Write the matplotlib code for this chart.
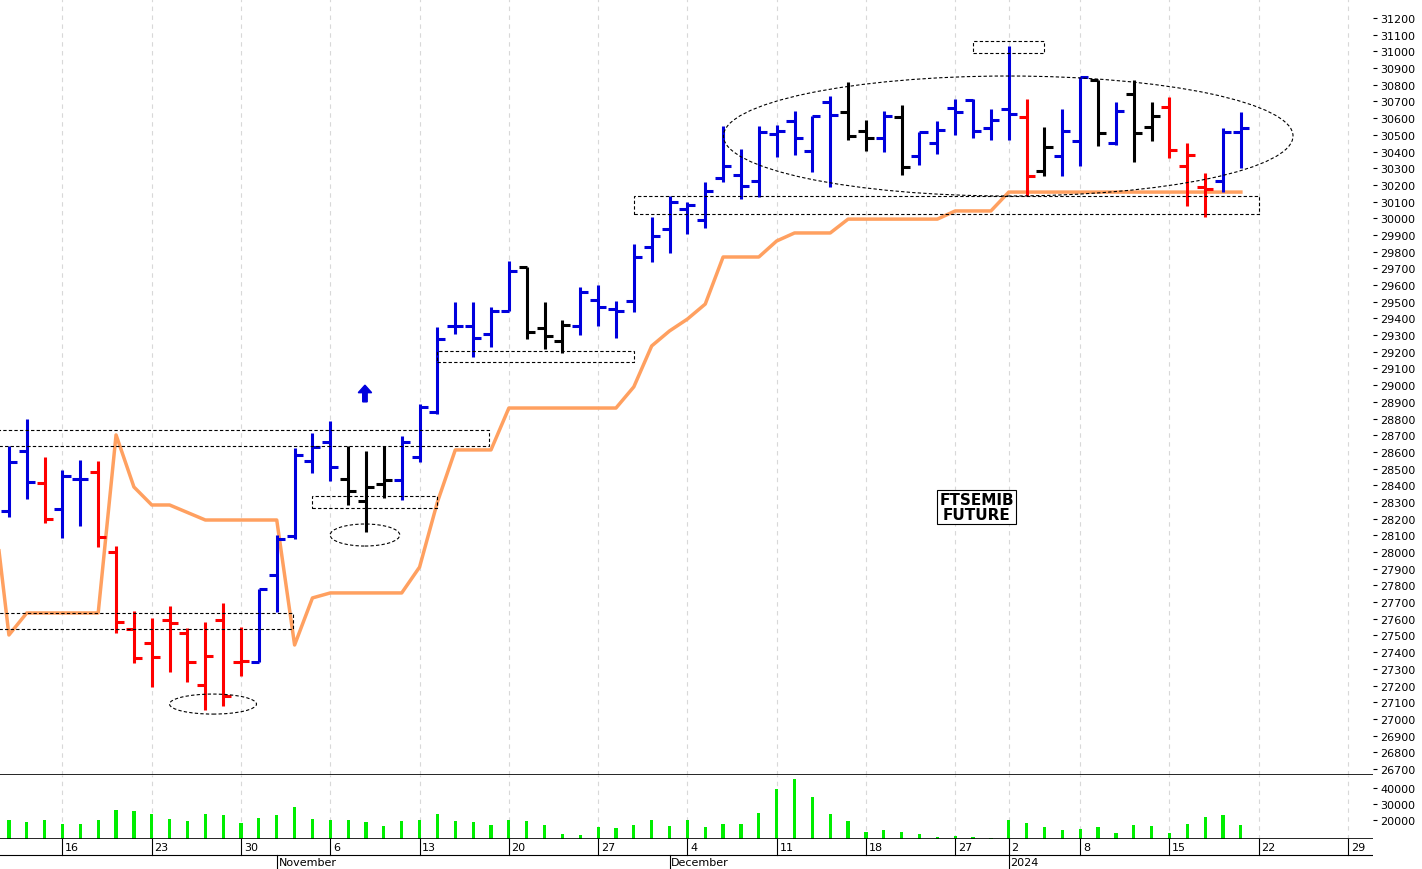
import matplotlib
matplotlib.use("Agg")
import matplotlib.pyplot as plt
from matplotlib.patches import Rectangle, Ellipse, FancyArrow

opens = [28246,28606,28414,28258,28438,28480,28000,27539,27455,27593,27515,27203,27593,27341,27341,27862,28096,28546,28660,28438,
         28306,28408,28432,28570,28839,29355,29355,29307,29444,29708,29343,29265,29355,29510,29456,29504,29828,29936,30056,29990,
         30241,30259,30223,30505,30583,30403,30697,30637,30523,30481,30607,30373,30451,30661,30709,30541,30655,30607,30283,30373,
         30463,30829,30451,30745,30547,30667,30313,30187,30223,30517]
highs = [28636,28797,28570,28492,28552,28546,28036,27647,27605,27677,27545,27581,27695,27551,27779,28102,28624,28713,28785,28636,
         28606,28636,28696,28890,29349,29498,29498,29468,29744,29708,29498,29390,29588,29600,29504,29846,30008,30134,30098,30218,
         30553,30415,30553,30559,30643,30613,30733,30817,30589,30643,30679,30517,30583,30715,30715,30655,31032,30715,30547,30655,
         30847,30829,30697,30829,30697,30727,30451,30271,30541,30637]
lows = [28210,28318,28174,28084,28156,28030,27515,27335,27191,27281,27221,27053,27077,27257,27341,27641,28078,28474,28426,28282,
        28120,28324,28312,28540,28827,29307,29169,29229,29444,29277,29217,29193,29301,29355,29283,29440,29738,29792,29906,29942,
        30217,30115,30127,30367,30379,30277,30187,30469,30403,30397,30259,30319,30385,30499,30481,30469,30469,30134,30253,30253,
        30313,30433,30439,30337,30463,30361,30074,30008,30158,30301]
closes = [28540,28420,28198,28456,28438,28090,27581,27365,27371,27575,27341,27377,27137,27347,27779,28078,28582,28630,28510,28366,
          28390,28432,28660,28870,29277,29355,29283,29444,29684,29319,29295,29361,29558,29468,29444,29768,29894,30098,30080,30164,
          30313,30193,30517,30523,30481,30613,30619,30493,30481,30613,30307,30517,30529,30637,30523,30589,30625,30253,30427,30523,
          30847,30511,30643,30511,30613,30409,30379,30175,30517,30541]
colors = list("bbrbbrrrrrrrrrbbbbbkkkbbbbbbbkkkbbbbbbbbbbbbbbbkkbkbbbbbbrkbbkbkkrrrbb")
volumes = [19580,18540,20000,17080,17080,19580,25830,25200,23330,20200,19170,23750,22700,17900,21040,23120,27920,20200,19580,19580,
           18540,16040,18960,19580,23750,18960,18540,16450,19580,18960,16870,11250,10200,15420,14790,16450,19580,16040,19580,15420,
           17500,17500,24380,39380,45630,34170,23750,18960,12300,13750,12300,11250,9170,9800,9170,8500,20000,18100,15420,13330,
           14000,15420,11880,16450,15830,11880,17500,21670,23120,16870]
stop_line = [28410,27503,27635,27635,27635,27635,27635,28702,28390,28282,28282,28237,28192,28192,28192,28192,28192,27443,27725,27755,
             27755,27755,27755,27755,27910,28300,28612,28612,28612,28863,28863,28863,28863,28863,28863,28863,28990,29235,29325,29396,
             29486,29768,29768,29768,29864,29912,29912,29912,29995,29995,29995,29995,29995,29995,30044,30044,30044,30157,30157,30157,
             30157,30157,30157,30157,30157,30157,30157,30157,30157,30157,30157]
week_ticks = [3,8,13,18,23,28,33,38,43,48,53,56,60,65,70,75]
week_labels = ["16","23","30","6","13","20","27","4","11","18","27","2","8","15","22","29"]
month_pos = [15,37,56]
month_labels = ["November","December","2024"]
price_ticks = list(range(26700,31201,100))
vol_ticks = [20000,30000,40000]

cmap = {"b":"#0000dd","r":"#ff0000","k":"#000000"}
W,H = 1422,870
fig = plt.figure(figsize=(W/100,H/100),dpi=100)
xl = (-0.5, 76.4)
ax = fig.add_axes([0, 1-776/H, 1373/W, 776/H])
axv = fig.add_axes([0, 1-840/H, 1373/W, 64/H])
axd = fig.add_axes([0, 0, 1373/W, 30/H])
for a in (ax,axv,axd):
    a.set_xlim(*xl)
    for s in a.spines.values(): s.set_visible(False)
ax.set_ylim(26664, 31314)
axv.set_ylim(8000, 48000)
axd.set_ylim(0,1)

for a in (ax,axv):
    for t in week_ticks:
        a.axvline(t, color="#d8d8d8", lw=0.8, ls=(0,(4,4)), zorder=0)

n = len(opens)
for i in range(n):
    c = cmap[colors[i]]
    ax.plot([i,i],[lows[i],highs[i]],color=c,lw=2.2,solid_capstyle="butt",zorder=3)
    ax.plot([i-0.45,i],[opens[i],opens[i]],color=c,lw=2.2,solid_capstyle="butt",zorder=3)
    ax.plot([i,i+0.45],[closes[i],closes[i]],color=c,lw=2.2,solid_capstyle="butt",zorder=3)
ax.plot(range(-1,n),stop_line,color="#ffa060",lw=2.5,zorder=2)

def rect(x0,x1,p0,p1):
    ax.add_patch(Rectangle((x0,p0),x1-x0,p1-p0,fill=False,ls=(0,(3,2)),lw=0.8,ec="black",zorder=4))
rect(-0.6,26.9,28636,28731)
rect(-0.6,15.9,27540,27635)
rect(17.0,24.0,28264,28336)
rect(24.0,35.0,29139,29205)
rect(35.0,70.0,30026,30133)
rect(54.0,58.0,30990,31062)
def ell(cx,cp,w,h):
    ax.add_patch(Ellipse((cx,cp),w,h,fill=False,ls=(0,(3,2)),lw=0.8,ec="black",zorder=4))
ell(11.43,27089,4.87,120)
ell(19.94,28102,3.9,132)
ell(55.97,30493,31.9,719)
ax.add_patch(FancyArrow(19.94,28900,0,100,width=0.25,head_width=0.75,head_length=45,
                        length_includes_head=True,color="#0000dd",zorder=5))
ax.text(54.2,28270,"FTSEMIB\nFUTURE",ha="center",va="center",fontsize=11,fontweight="bold",
        linespacing=0.95,bbox=dict(boxstyle="square,pad=0.15",fc="white",ec="black",lw=0.8),zorder=6)

ax.yaxis.tick_right()
ax.set_yticks(price_ticks)
ax.set_yticklabels([str(p) for p in price_ticks],fontsize=8)
ax.tick_params(axis="y",length=3,pad=2)
ax.set_xticks([])
ax.axhline(26664,color="black",lw=1.2)

axv.bar(range(n),[v-8000 for v in volumes],bottom=8000,width=0.18,color="#00ee00")
axv.yaxis.tick_right()
axv.set_yticks(vol_ticks)
axv.set_yticklabels([str(v) for v in vol_ticks],fontsize=8)
axv.tick_params(axis="y",length=3,pad=2)
axv.set_xticks([])
axv.axhline(8000,color="black",lw=1.2)

axd.set_xticks([]); axd.set_yticks([])
for t,l in zip(week_ticks,week_labels):
    axd.plot([t,t],[0.47,1],color="black",lw=0.8)
    axd.text(t+0.15,0.73,l,fontsize=8,va="center",ha="left")
for m,l in zip(month_pos,month_labels):
    axd.plot([m,m],[0,0.47],color="black",lw=0.8)
    axd.text(m+0.1,0.22,l,fontsize=8,va="center",ha="left")
axd.axhline(0.47,color="black",lw=0.8)

fig.savefig("out.png",dpi=100)
